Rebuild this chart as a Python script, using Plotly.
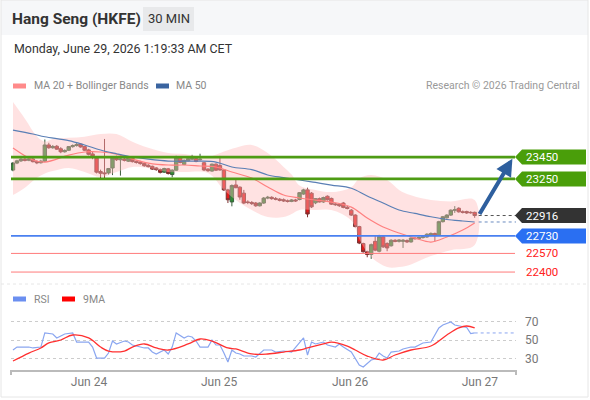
import plotly.graph_objects as go

W, H = 590, 400

# 30 min candles, oldest first
opens = [23331, 23395, 23415, 23430, 23420, 23432, 23408, 23398, 23412, 23560,
         23535, 23548, 23525, 23498, 23512, 23545, 23555, 23568, 23545, 23515,
         23478, 23440, 23318, 23305, 23305, 23350, 23440, 23425, 23432, 23412,
         23440, 23410, 23405, 23392, 23375, 23365, 23350, 23335, 23312, 23342,
         23290, 23330, 23445, 23382, 23415, 23430, 23436, 23425, 23398, 23340,
         23322, 23385, 23372, 23332, 23150, 23040, 23195, 23175, 23120, 23040,
         23035, 23030, 23005, 23030, 23075, 23082, 23070, 23065, 23060, 23050,
         23045, 23058, 23062, 23112, 23150, 23120, 23032, 23070, 23040, 23092,
         23072, 23022, 23020, 23030, 22992, 22965, 22920, 22815, 22660, 22585,
         22560, 22680, 22590, 22722, 22660, 22640, 22690, 22680, 22680, 22688,
         22675, 22710, 22705, 22715, 22720, 22735, 22752, 22740, 22860, 22895,
         22920, 22965, 22982, 22950, 22952, 22945, 22945]
highs = [23405, 23425, 23440, 23440, 23445, 23442, 23420, 23425, 23610, 23580,
         23560, 23560, 23540, 23520, 23550, 23565, 23578, 23575, 23552, 23525,
         23500, 23448, 23335, 23615, 23350, 23450, 23462, 23470, 23445, 23448,
         23450, 23420, 23415, 23400, 23385, 23372, 23358, 23345, 23352, 23350,
         23338, 23462, 23452, 23428, 23442, 23470, 23445, 23480, 23405, 23348,
         23390, 23392, 23460, 23340, 23160, 23200, 23240, 23182, 23150, 23055,
         23048, 23040, 23038, 23085, 23095, 23092, 23085, 23075, 23072, 23062,
         23065, 23068, 23130, 23160, 23170, 23130, 23075, 23080, 23088, 23100,
         23080, 23032, 23030, 23040, 23005, 22975, 22928, 22822, 22668, 22595,
         22660, 22735, 22740, 22735, 22672, 22700, 22700, 22700, 22702, 22698,
         22718, 22720, 22725, 22730, 22755, 22762, 22760, 22868, 22912, 22928,
         22972, 23002, 22992, 22962, 22960, 22955, 22952]
lows = [23320, 23385, 23405, 23410, 23412, 23400, 23385, 23390, 23405, 23525,
        23525, 23515, 23485, 23490, 23505, 23535, 23545, 23535, 23505, 23465,
        23430, 23300, 23250, 23250, 23290, 23285, 23415, 23280, 23410, 23405,
        23400, 23390, 23380, 23362, 23355, 23332, 23325, 23300, 23305, 23290,
        23265, 23325, 23392, 23375, 23410, 23422, 23402, 23418, 23322, 23315,
        23315, 23322, 23325, 23140, 23030, 23000, 23165, 23060, 23020, 23020,
        23012, 22995, 22998, 23022, 23065, 23060, 23055, 23045, 23040, 23035,
        23038, 23040, 23055, 23105, 22900, 22985, 23020, 23035, 23032, 23052,
        23012, 23005, 22995, 22982, 22972, 22912, 22808, 22655, 22578, 22535,
        22520, 22590, 22580, 22620, 22590, 22632, 22672, 22670, 22620, 22665,
        22668, 22695, 22698, 22705, 22712, 22728, 22680, 22735, 22852, 22888,
        22912, 22940, 22942, 22935, 22930, 22932, 22895]
closes = [23395, 23415, 23430, 23420, 23432, 23408, 23398, 23412, 23560, 23535,
          23545, 23522, 23498, 23510, 23545, 23555, 23565, 23542, 23512, 23475,
          23452, 23312, 23302, 23298, 23345, 23440, 23425, 23432, 23420, 23440,
          23408, 23400, 23390, 23370, 23362, 23340, 23335, 23310, 23345, 23300,
          23330, 23445, 23400, 23420, 23435, 23436, 23410, 23430, 23332, 23325,
          23385, 23330, 23332, 23150, 23060, 23190, 23170, 23085, 23030, 23035,
          23025, 23005, 23030, 23075, 23082, 23070, 23065, 23055, 23050, 23045,
          23058, 23050, 23125, 23150, 22930, 22995, 23070, 23040, 23080, 23060,
          23020, 23015, 23005, 22990, 22980, 22920, 22815, 22665, 22585, 22560,
          22650, 22600, 22725, 22630, 22620, 22690, 22680, 22692, 22690, 22675,
          22710, 22705, 22715, 22722, 22745, 22752, 22732, 22860, 22905, 22920,
          22965, 22968, 22950, 22945, 22940, 22942, 22916]

# indicator values at some candles
ma_idx = [0, 5, 8, 14, 18, 22, 26, 30, 34, 39, 43, 47, 51, 55, 60, 64, 68, 72,
          76, 80, 85, 89, 93, 97, 101, 105, 109, 113, 116]
ma20 = [23532, 23423, 23404, 23468, 23496, 23496, 23477, 23432, 23395, 23377,
        23377, 23368, 23359, 23313, 23258, 23176, 23103, 23076, 23057, 23039,
        22993, 22893, 22811, 22756, 22710, 22674, 22720, 22784, 22848]
ma50 = [23696, 23660, 23635, 23600, 23560, 23514, 23480, 23450, 23430, 23413,
        23412, 23413, 23404, 23359, 23335, 23286, 23262, 23240, 23218, 23194,
        23165, 23094, 23030, 22966, 22935, 22905, 22880, 22866, 22857]

band_idx = [0, 3, 6, 8, 10, 14, 18, 22, 26, 30, 34, 39, 43, 49, 53, 56, 60, 64,
            68, 70, 72, 76, 80, 85, 87, 90, 94, 97, 100, 105, 110, 116]
bb_upper = [23952, 23800, 23640, 23590, 23615, 23625, 23635, 23660, 23660, 23590,
            23535, 23487, 23477, 23450, 23500, 23535, 23560, 23487, 23360, 23290,
            23190, 23150, 23130, 23175, 23255, 23285, 23240, 23150, 23100, 23057,
            23045, 23057]
bb_lower = [23103, 23170, 23260, 23300, 23322, 23350, 23313, 23267, 23313, 23359,
            23350, 23313, 23313, 23304, 23150, 23057, 22966, 22902, 22902, 22930,
            22966, 22966, 22966, 22870, 22700, 22537, 22446, 22446, 22470, 22546,
            22600, 22647]

rsi_idx = [0, 1, 4, 5, 7, 8, 10, 11, 13, 15, 16, 19, 20, 21, 23, 24, 25, 26, 28,
           29, 30, 31, 33, 34, 35, 36, 38, 39, 40, 41, 43, 44, 45, 46, 47, 49,
           50, 51, 52, 53, 54, 55, 56, 57, 58, 60, 61, 63, 65, 66, 68, 70, 72,
           73, 74, 75, 76, 78, 79, 81, 82, 83, 85, 86, 87, 88, 90, 91, 92, 93,
           94, 95, 97, 98, 100, 101, 103, 105, 107, 108, 110, 111, 112, 113,
           114, 115, 116]
rsi = [39.2, 42.4, 42.4, 41.4, 42.4, 57.6, 56.5, 52.2, 56.5, 57.6, 47.8, 47.8,
       42.4, 30.5, 30.5, 35.9, 48.9, 45.7, 48.9, 47.8, 44.6, 43.5, 41.4, 41.4,
       37.0, 34.9, 39.2, 34.9, 42.4, 57.6, 52.2, 54.3, 53.2, 48.9, 42.4, 42.4,
       50.0, 44.6, 44.6, 35.9, 26.2, 39.2, 35.9, 34.9, 32.7, 32.7, 31.6, 39.2,
       39.2, 37.0, 38.1, 37.0, 47.8, 52.2, 33.8, 47.8, 45.7, 47.8, 44.6, 42.4,
       45.7, 42.4, 37.0, 30.5, 23.0, 20.8, 28.4, 29.5, 35.9, 32.7, 30.5, 37.0,
       38.1, 40.3, 42.4, 42.4, 46.8, 47.8, 63.0, 66.2, 69.5, 66.2, 65.5, 64.0,
       63.5, 57.0, 57.6]
ma9_idx = [0, 4, 7, 9, 12, 15, 19, 22, 24, 28, 30, 33, 36, 39, 44, 47, 50, 54,
           56, 60, 64, 68, 72, 74, 78, 80, 84, 86, 89, 93, 96, 100, 105, 109,
           112, 114, 116]
rsi_ma9 = [27.3, 35.9, 41.4, 46.8, 50.0, 55.4, 52.2, 42.4, 38.1, 38.1, 42.4,
           45.7, 41.4, 39.2, 45.7, 51.1, 48.9, 41.4, 40.3, 34.9, 34.9, 37.0,
           39.2, 41.4, 45.7, 47.8, 43.5, 39.2, 32.7, 28.4, 33.8, 39.2, 43.5,
           55.4, 63.0, 65.1, 63.0]

# key levels
resistances = [23450, 23250]
supports = [22730]
minor_supports = [22570, 22400]
last_price = 22916
date_ticks = [19.1, 51.8, 84.7, 117.3]
date_labels = ["Jun 24", "Jun 25", "Jun 26", "Jun 27"]
rsi_levels = [30, 50, 70]

FONT = "Roboto, Arial, sans-serif"


def px(x):
    return x / W


def py(y):
    return 1 - y / H


x = list(range(len(closes)))
fig = go.Figure()

fig.add_trace(go.Scatter(x=band_idx + band_idx[::-1], y=bb_upper + bb_lower[::-1],
                         fill="toself", fillcolor="rgba(255,185,185,0.42)",
                         line=dict(width=0, shape="spline"), hoverinfo="skip"))
fig.add_trace(go.Scatter(x=ma_idx, y=ma20, mode="lines",
                         line=dict(color="#ff8080", width=1.2, shape="spline")))
fig.add_trace(go.Scatter(x=ma_idx, y=ma50, mode="lines",
                         line=dict(color="#5a7fb5", width=1.2, shape="spline")))
fig.add_trace(go.Candlestick(x=x, open=opens, high=highs, low=lows, close=closes,
                             increasing=dict(fillcolor="#2e8b34", line=dict(color="#3b5e3e", width=1)),
                             decreasing=dict(fillcolor="#e31b1b", line=dict(color="#7a3030", width=1)),
                             whiskerwidth=0))

fig.add_trace(go.Scatter(x=rsi_idx, y=rsi, mode="lines", xaxis="x2", yaxis="y2",
                         line=dict(color="#8aa6f0", width=1.2)))
fig.add_trace(go.Scatter(x=ma9_idx, y=rsi_ma9, mode="lines", xaxis="x2", yaxis="y2",
                         line=dict(color="#ff3030", width=1.3, shape="spline")))

x_end = (516 - 13) / 3.98
line_x0, line_x1 = px(11), px(515)
shapes = []
annos = []

# frame + header
shapes.append(dict(type="rect", xref="paper", yref="paper", x0=px(1), x1=px(588), y0=py(35), y1=py(0),
                   fillcolor="#f6f7f9", line=dict(width=0), layer="below"))
shapes.append(dict(type="rect", xref="paper", yref="paper", x0=px(1), x1=px(588), y0=py(397), y1=py(0),
                   line=dict(color="#e6e6e6", width=1)))
shapes.append(dict(type="line", xref="paper", yref="paper", x0=px(1), x1=px(588), y0=py(284), y1=py(284),
                   line=dict(color="#e6e6e6", width=1, dash="dot")))
shapes.append(dict(type="rect", xref="paper", yref="paper", x0=px(143), x1=px(194), y0=py(31), y1=py(7),
                   fillcolor="#e8e9eb", line=dict(width=0)))


def tag(level, fill, text, text_color="white"):
    h = 7.5 * 9.13
    shapes.append(dict(type="path", xref="paper", yref="y",
                       path=f"M {px(515)},{level} L {px(522)},{level + h} L {px(586)},{level + h} "
                            f"L {px(586)},{level - h} L {px(522)},{level - h} Z",
                       fillcolor=fill, line=dict(width=0)))
    annos.append(dict(xref="paper", yref="y", x=px(524), y=level, text=text,
                      font=dict(color=text_color, size=11.5)))


for lv in resistances:
    shapes.append(dict(type="line", xref="paper", yref="y", x0=line_x0, x1=line_x1, y0=lv, y1=lv,
                       line=dict(color="#4e9c14", width=2.8)))
    tag(lv, "#4a9e0a", str(lv))
for lv in supports:
    shapes.append(dict(type="line", xref="paper", yref="y", x0=line_x0, x1=line_x1, y0=lv, y1=lv,
                       line=dict(color="#4a80f0", width=1.6)))
    tag(lv, "#2a6ff2", str(lv))
for lv in minor_supports:
    shapes.append(dict(type="line", xref="paper", yref="y", x0=line_x0, x1=line_x1, y0=lv, y1=lv,
                       line=dict(color="#ff7b7b", width=1)))
    annos.append(dict(xref="paper", yref="y", x=px(524), y=lv, text=str(lv),
                      font=dict(color="#ff2020", size=11.5)))

# current price and MA50 extensions
shapes.append(dict(type="line", xref="x", yref="y", x0=len(closes), x1=x_end, y0=last_price, y1=last_price,
                   line=dict(color="#555", width=1, dash="dot")))
shapes.append(dict(type="line", xref="x", yref="y", x0=len(closes), x1=x_end, y0=ma50[-1], y1=ma50[-1],
                   line=dict(color="#6a8abf", width=1, dash="dot")))
tag(last_price, "#333333", str(last_price))

# forecast arrow
annos.append(dict(x=x_end - 0.9, y=resistances[0] - 15, ax=len(closes), ay=last_price,
                  xref="x", yref="y", axref="x", ayref="y", showarrow=True,
                  arrowhead=2, arrowsize=0.85, arrowwidth=4, arrowcolor="#2e5f9e", text=""))

# rsi extension and end ticks
shapes.append(dict(type="line", xref="x2", yref="y2", x0=rsi_idx[-1], x1=x_end, y0=rsi[-1], y1=rsi[-1],
                   line=dict(color="#8aa6f0", width=1, dash="dot")))
for xd in (0, 1):
    shapes.append(dict(type="line", xref="x2 domain", yref="paper", x0=xd, x1=xd, y0=py(375), y1=py(370),
                       line=dict(color="#bbbbbb", width=2)))

# texts
annos += [
    dict(x=px(10), y=py(19), text="<b>Hang Seng (HKFE)</b>", font=dict(size=15.5, color="#333")),
    dict(x=px(168.5), y=py(19), text="30 MIN", xanchor="center", font=dict(size=13, color="#333")),
    dict(x=px(12), y=py(48), text="Monday, June 29, 2026 1:19:33 AM CET", font=dict(size=12.4, color="#333")),
    dict(x=px(32), y=py(86), text="MA 20 + Bollinger Bands", font=dict(size=10.5, color="#888")),
    dict(x=px(174), y=py(86), text="MA 50", font=dict(size=10.5, color="#888")),
    dict(x=px(582), y=py(86), text="Research © 2026 Trading Central", xanchor="right",
         font=dict(size=10.5, color="#999")),
    dict(x=px(32), y=py(299), text="RSI", font=dict(size=10.5, color="#888")),
    dict(x=px(81), y=py(299), text="9MA", font=dict(size=10.5, color="#888")),
]
for a in annos:
    a.setdefault("xref", "paper")
    a.setdefault("yref", "paper")
    a.setdefault("showarrow", False)
    a.setdefault("xanchor", "left")
    a.setdefault("yanchor", "middle")
    a["font"] = dict(a.get("font", {}), family=FONT)

for x0, col in [(13, "#ff8a8a"), (156, "#3a64a0"), (13, "#6b8ff0"), (62, "#ff0000")]:
    yy = 86 if col in ("#ff8a8a", "#3a64a0") else 299
    shapes.append(dict(type="rect", xref="paper", yref="paper", x0=px(x0), x1=px(x0 + 13),
                       y0=py(yy + 2.5), y1=py(yy - 2.5), fillcolor=col, line=dict(width=0)))

fig.update_layout(
    width=W, height=H, margin=dict(l=0, r=0, t=0, b=0),
    paper_bgcolor="white", plot_bgcolor="white", showlegend=False,
    font=dict(family=FONT, color="#666"),
    boxgap=0.15, boxgroupgap=0,
    shapes=shapes, annotations=annos,
    xaxis=dict(domain=[px(11), px(516)], range=[-0.5, x_end], visible=False,
               rangeslider=dict(visible=False), anchor="y"),
    yaxis=dict(domain=[py(283), py(97)], range=[22300, 23998], visible=False),
    xaxis2=dict(domain=[px(11), px(516)], range=[-0.5, x_end], matches="x", anchor="y2",
                showline=True, linecolor="#bbbbbb", linewidth=2, showgrid=False, zeroline=False,
                tickvals=date_ticks, ticktext=date_labels, ticks="",
                tickfont=dict(size=12, color="#777")),
    yaxis2=dict(domain=[py(370), py(300)], range=[17.6, 93.2], side="right", anchor="x2",
                tickvals=rsi_levels, showgrid=True, gridcolor="#cccccc", griddash="dot",
                zeroline=False, ticks="", ticklabelstandoff=8,
                tickfont=dict(size=12, color="#777")),
)

fig.write_html("out.html", config={"displayModeBar": False},
               post_script="document.body.style.margin='0';")
